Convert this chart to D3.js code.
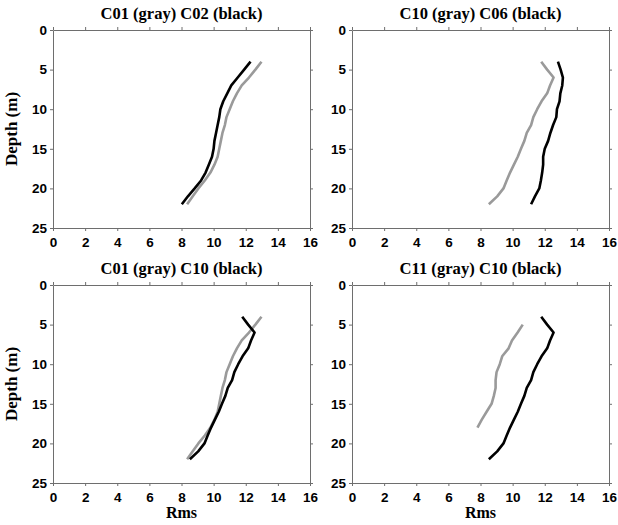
<!DOCTYPE html>
<html>
<head>
<meta charset="utf-8">
<script src="https://cdn.jsdelivr.net/npm/d3@7"></script>
<style>
  html, body { margin: 0; padding: 0; background: #fff; }
  svg { display: block; }
  .tick text { font-family: "Liberation Sans", Arial, sans-serif; font-weight: bold; font-size: 13.5px; fill: #000; }
  .title, .label { font-family: "Liberation Serif", "Times New Roman", serif; font-weight: bold; fill: #000; }
</style>
</head>
<body>
<script>
// Depth samples (m)
const depths = [4, 5, 6, 7, 8, 9, 10, 11, 12, 13, 14, 15, 16, 17, 18, 19, 20, 21, 22];
const depthsC11 = [5, 6, 7, 8, 9, 10, 11, 12, 13, 14, 15, 16, 17, 18];

// RMS profiles per station
const rmsC01 = [12.98, 12.6, 12.2, 11.75, 11.45, 11.2, 11.0, 10.8, 10.7, 10.55, 10.45, 10.35, 10.25, 10.05, 9.8, 9.45, 9.05, 8.7, 8.35];
const rmsC02 = [12.3, 11.9, 11.5, 11.1, 10.85, 10.6, 10.42, 10.35, 10.25, 10.15, 10.05, 10.0, 9.9, 9.7, 9.5, 9.22, 8.82, 8.4, 8.02];
const rmsC06 = [12.82, 12.99, 13.13, 13.09, 12.97, 12.92, 12.76, 12.72, 12.52, 12.35, 12.21, 12.0, 11.9, 11.9, 11.84, 11.76, 11.66, 11.39, 11.15];
const rmsC10 = [11.78, 12.15, 12.55, 12.33, 12.15, 11.8, 11.53, 11.29, 11.15, 10.88, 10.73, 10.52, 10.32, 10.08, 9.84, 9.63, 9.43, 9.04, 8.52];
const rmsC11 = [10.63, 10.31, 9.96, 9.75, 9.35, 9.2, 9.0, 8.94, 8.94, 8.83, 8.69, 8.38, 8.08, 7.81];

// Axis ticks
const xTicks = [0, 2, 4, 6, 8, 10, 12, 14, 16];
const yTicks = [0, 5, 10, 15, 20, 25];

// Panel titles
const titles = ["C01 (gray) C02 (black)", "C10 (gray) C06 (black)", "C01 (gray) C10 (black)", "C11 (gray) C10 (black)"];

const panels = [
  { title: titles[0], gray: { d: depths, v: rmsC01 }, black: { d: depths, v: rmsC02 }, col: 0, row: 0 },
  { title: titles[1], gray: { d: depths, v: rmsC10 }, black: { d: depths, v: rmsC06 }, col: 1, row: 0 },
  { title: titles[2], gray: { d: depths, v: rmsC01 }, black: { d: depths, v: rmsC10 }, col: 0, row: 1 },
  { title: titles[3], gray: { d: depthsC11, v: rmsC11 }, black: { d: depths, v: rmsC10 }, col: 1, row: 1 }
];

const W = 618, H = 525;
const svg = d3.select("body").append("svg").attr("width", W).attr("height", H);

const pw = 257, ph = 198;
const lefts = [53, 352], tops = [30, 285];
const frameColor = "#6e6e6e";

panels.forEach(p => {
  const x0 = lefts[p.col], y0 = tops[p.row];
  const g = svg.append("g").attr("transform", `translate(${x0},${y0})`);
  const x = d3.scaleLinear().domain([0, 16]).range([0, pw]);
  const y = d3.scaleLinear().domain([0, 25]).range([0, ph]);

  const styleAxis = sel => {
    sel.select(".domain").attr("stroke", frameColor).attr("stroke-width", 1);
    sel.selectAll(".tick line").attr("stroke", frameColor).attr("stroke-width", 1);
  };

  g.append("g").attr("transform", `translate(0,${ph})`)
    .call(d3.axisBottom(x).tickValues(xTicks).tickFormat(d3.format("d")).tickSize(3).tickSizeOuter(0).tickPadding(6))
    .call(styleAxis);
  g.append("g")
    .call(d3.axisTop(x).tickValues(xTicks).tickFormat("").tickSize(3).tickSizeOuter(0))
    .call(styleAxis);
  g.append("g")
    .call(d3.axisLeft(y).tickValues(yTicks).tickFormat(d3.format("d")).tickSize(3).tickSizeOuter(0).tickPadding(3))
    .call(styleAxis);
  g.append("g").attr("transform", `translate(${pw},0)`)
    .call(d3.axisRight(y).tickValues(yTicks).tickFormat("").tickSize(3).tickSizeOuter(0))
    .call(styleAxis);

  const line = d3.line().x(d => x(d[1])).y(d => y(d[0]));
  const drawSeries = (s, color) => {
    g.append("path")
      .datum(s.d.map((d, i) => [d, s.v[i]]))
      .attr("fill", "none")
      .attr("stroke", color)
      .attr("stroke-width", 2.6)
      .attr("stroke-linejoin", "round")
      .attr("d", line);
  };
  drawSeries(p.gray, "#9a9a9a");
  drawSeries(p.black, "#000");

  // Title
  g.append("text").attr("class", "title")
    .attr("x", pw / 2).attr("y", -11)
    .attr("text-anchor", "middle")
    .attr("font-size", 16)
    .attr("textLength", 162).attr("lengthAdjust", "spacingAndGlyphs")
    .text(p.title);

  if (p.col === 0) {
    g.append("text").attr("class", "label")
      .attr("transform", `translate(${-36},${ph / 2}) rotate(-90)`)
      .attr("text-anchor", "middle")
      .attr("font-size", 17)
      .text("Depth (m)");
  }
  if (p.row === 1) {
    g.append("text").attr("class", "label")
      .attr("x", pw / 2).attr("y", ph + 35)
      .attr("text-anchor", "middle")
      .attr("font-size", 16)
      .text("Rms");
  }
});
</script>
</body>
</html>
